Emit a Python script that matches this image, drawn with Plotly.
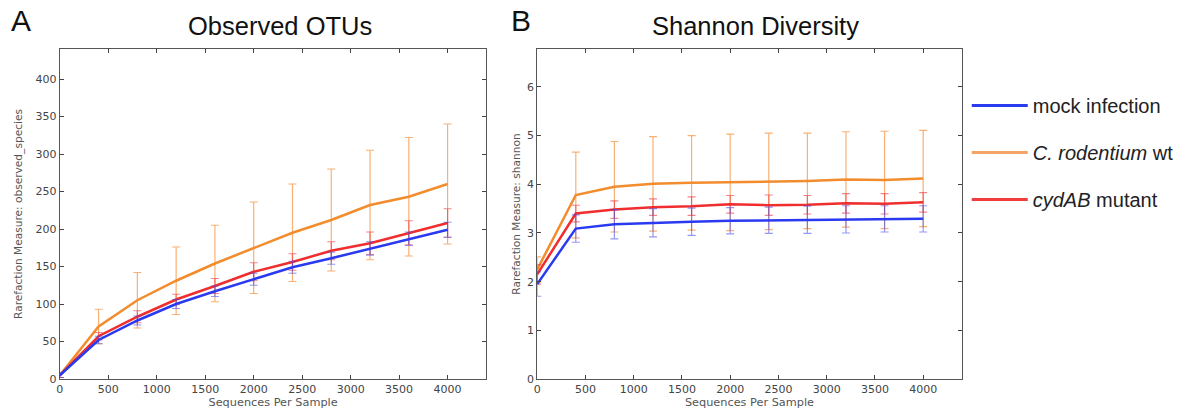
import plotly.graph_objects as go

seqs = [0, 400, 800, 1200, 1600, 2000, 2400, 2800, 3200, 3600, 4000]

series_names = ["mock infection", "<i>C. rodentium</i> wt", "<i>cydAB</i> mutant"]

# Observed OTUs
otu_mock = [5, 52, 78, 100, 117, 133, 149, 161, 174, 187, 199]
otu_mock_err = [3, 5, 6, 6, 7, 8, 8, 8, 9, 9, 10]
otu_wt = [5, 70, 105, 131, 154, 175, 195, 212, 232, 243, 260]
otu_wt_err = [3, 23, 37, 45, 51, 61, 65, 68, 73, 79, 80]
otu_mut = [5, 57, 83, 106, 124, 143, 156, 171, 181, 195, 208]
otu_mut_err = [3, 5, 8, 7, 10, 12, 11, 12, 15, 16, 19]

# Shannon diversity
sh_mock = [1.95, 3.09, 3.18, 3.21, 3.23, 3.25, 3.26, 3.27, 3.28, 3.29, 3.29]
sh_mock_err = [0.25, 0.28, 0.30, 0.29, 0.28, 0.27, 0.27, 0.28, 0.28, 0.27, 0.27]
sh_wt = [2.25, 3.78, 3.95, 4.01, 4.03, 4.04, 4.06, 4.07, 4.10, 4.09, 4.12]
sh_wt_err = [0.26, 0.88, 0.93, 0.97, 0.97, 0.99, 0.99, 0.98, 0.98, 1.00, 0.99]
sh_mut = [2.15, 3.40, 3.48, 3.53, 3.55, 3.59, 3.57, 3.58, 3.61, 3.60, 3.63]
sh_mut_err = [0.20, 0.17, 0.18, 0.17, 0.19, 0.18, 0.21, 0.19, 0.20, 0.21, 0.20]

line_colors = ["#2a3af0", "#f28c2c", "#f02e2e"]
err_colors = ["rgba(60,70,240,0.55)", "rgba(245,150,70,0.75)", "rgba(240,50,60,0.6)"]
legend_colors = ["#2a3af0", "#f4a466", "#f03c3c"]

W, H = 1188, 411
T, B = 49, 32
PH = H - T - B


def py(px):
    """pixel row from top -> paper y"""
    return (H - B - px) / PH


fig = go.Figure()

panels = [
    ("x", "y", [otu_mock, otu_wt, otu_mut], [otu_mock_err, otu_wt_err, otu_mut_err]),
    ("x2", "y2", [sh_mock, sh_wt, sh_mut], [sh_mock_err, sh_wt_err, sh_mut_err]),
]

order = [1, 2, 0]  # drawing order: orange, red, blue on top
for xa, ya, vals, errs in panels:
    for i in order:
        fig.add_trace(go.Scatter(
            x=seqs, y=vals[i], mode="lines", xaxis=xa, yaxis=ya,
            line=dict(color=line_colors[i], width=2.5),
            error_y=dict(type="data", array=errs[i], visible=True,
                         color=err_colors[i], thickness=1.2, width=4),
            showlegend=False, hoverinfo="skip",
        ))

# legend entries
for gi, i in enumerate([0, 1, 2]):
    fig.add_trace(go.Scatter(
        x=[None], y=[None], mode="lines", xaxis="x2", yaxis="y2",
        name=series_names[i], legendgroup=f"g{gi}",
        line=dict(color=legend_colors[i], width=3),
        showlegend=True,
    ))

tickfont = dict(family="DejaVu Sans", size=11, color="#444444")


def xaxis(domain, anchor):
    return dict(domain=domain, anchor=anchor, range=[0, 4400],
                tickvals=[0, 500, 1000, 1500, 2000, 2500, 3000, 3500, 4000],
                ticks="inside", ticklen=4, tickcolor="#444444",
                showline=True, linecolor="#555555", linewidth=1, mirror="ticks",
                showgrid=False, zeroline=False, tickfont=tickfont,
                title=dict(text="Sequences Per Sample",
                           font=dict(family="DejaVu Sans", size=11.3, color="#555555"),
                           standoff=2))


def yaxis(anchor, rng, tv, title, standoff):
    return dict(domain=[0, 1], anchor=anchor, range=rng, tickvals=tv,
                ticks="inside", ticklen=4, tickcolor="#444444",
                showline=True, linecolor="#555555", linewidth=1, mirror="ticks",
                showgrid=False, zeroline=False, tickfont=tickfont,
                title=dict(text=title,
                           font=dict(family="DejaVu Sans", size=10.6, color="#555555"),
                           standoff=standoff))


fig.update_layout(
    width=W, height=H,
    margin=dict(l=0, r=0, t=T, b=B),
    paper_bgcolor="white", plot_bgcolor="white",
    xaxis=xaxis([56 / W, 484 / W], "y"),
    yaxis=yaxis("x", [0, 440], [0, 50, 100, 150, 200, 250, 300, 350, 400],
                "Rarefaction Measure: observed_species", 10),
    xaxis2=xaxis([535 / W, 961 / W], "y2"),
    yaxis2=yaxis("x2", [0, 6.78], [0, 1, 2, 3, 4, 5, 6], "Rarefaction Measure: shannon", 4),
    legend=dict(x=966 / W, y=py(86), xanchor="left", yanchor="top",
                font=dict(family="Liberation Sans", size=20, color="#222222"),
                traceorder="grouped", tracegroupgap=18, bgcolor="rgba(0,0,0,0)",
                itemwidth=56),
    showlegend=True,
    annotations=[
        dict(text="Observed OTUs", x=277 / W, y=py(26), xref="paper", yref="paper",
             xanchor="center", yanchor="middle", showarrow=False,
             font=dict(family="Liberation Sans", size=25.5, color="#111111")),
        dict(text="Shannon Diversity", x=754 / W, y=py(26), xref="paper", yref="paper",
             xanchor="center", yanchor="middle", showarrow=False,
             font=dict(family="Liberation Sans", size=25.5, color="#111111")),
        dict(text="A", x=17.5 / W, y=py(21), xref="paper", yref="paper",
             xanchor="center", yanchor="middle", showarrow=False,
             font=dict(family="Liberation Sans", size=30, color="#111111")),
        dict(text="B", x=519 / W, y=py(21), xref="paper", yref="paper",
             xanchor="center", yanchor="middle", showarrow=False,
             font=dict(family="Liberation Sans", size=30, color="#111111")),
    ],
)

fig.write_html("out.html", config={"displayModeBar": False},
               post_script="document.body.style.margin='0';document.body.style.padding='0';")
